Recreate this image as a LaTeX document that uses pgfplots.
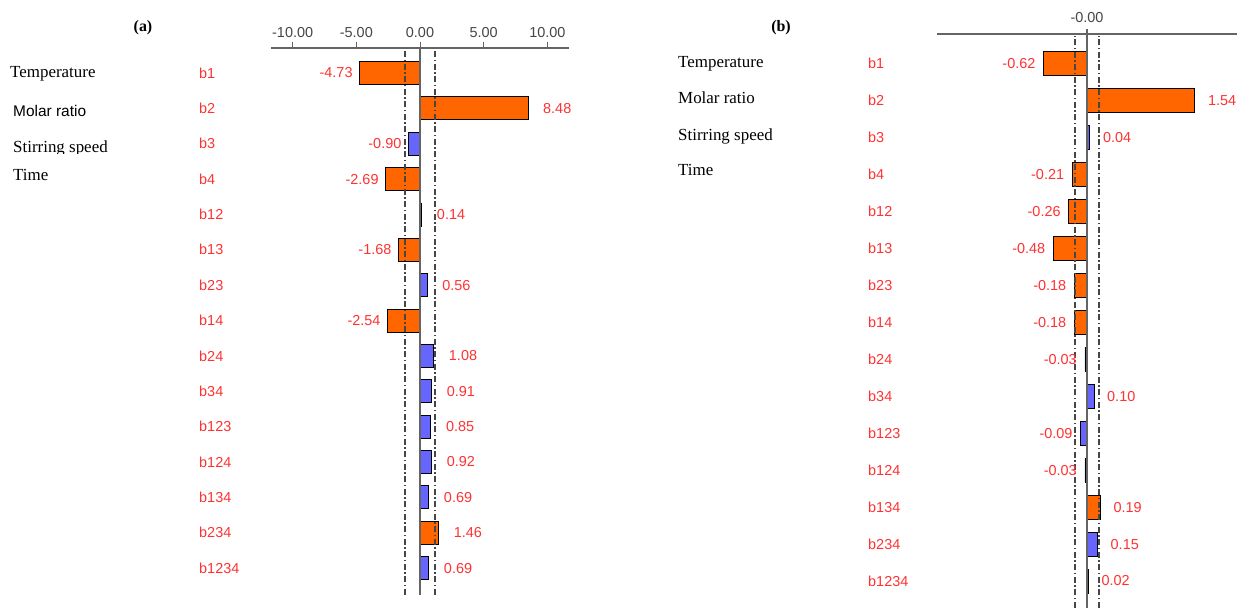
\documentclass[border=0pt]{standalone}
\usepackage{pgfplots}
\pgfplotsset{compat=1.18}
\usepackage{pgfplotstable}
\usepackage{fontspec}
\setmainfont{Liberation Serif}
\newfontfamily\arial{Liberation Sans}
\newcommand\lab{\arial\fontsize{14.5}{16}\selectfont}
\definecolor{orng}{RGB}{255,102,0}
\definecolor{blu}{RGB}{102,102,255}
\definecolor{lred}{RGB}{255,50,50}
\definecolor{lgray}{RGB}{100,100,100}
\definecolor{dgray}{RGB}{70,70,70}

% ---------- panel (a) ----------
\pgfplotstableread{
v y
-4.73 15
8.48 14
-2.69 12
-1.68 10
-2.54 8
1.46 2
}\aorange
\pgfplotstableread{
v y
-0.90 13
0.14 11
0.56 9
1.08 7
0.91 6
0.85 5
0.92 4
0.69 3
0.69 1
}\ablue
\pgfplotstableread{
v y lab
8.48 14 8.48
0.14 11 0.14
0.56 9 0.56
1.08 7 1.08
0.91 6 0.91
0.85 5 0.85
0.92 4 0.92
0.69 3 0.69
1.46 2 1.46
0.69 1 0.69
}\apos
\pgfplotstableread{
v y lab
-4.73 15 -4.73
-0.90 13 -0.90
-2.69 12 -2.69
-1.68 10 -1.68
-2.54 8 -2.54
}\aneg

% ---------- panel (b) ----------
\pgfplotstableread{
v y
-0.62 15
1.54 14
-0.21 12
-0.26 11
-0.48 10
-0.18 9
-0.18 8
0.19 3
}\borange
\pgfplotstableread{
v y
0.04 13
-0.03 7
0.10 6
-0.09 5
-0.03 4
0.15 2
0.02 1
}\bblue
\pgfplotstableread{
v y lab
1.54 14 1.54
0.04 13 0.04
0.10 6 0.10
0.19 3 0.19
0.15 2 0.15
0.02 1 0.02
}\bpos
\pgfplotstableread{
v y lab
-0.62 15 -0.62
-0.21 12 -0.21
-0.26 11 -0.26
-0.48 10 -0.48
-0.18 9 -0.18
-0.18 8 -0.18
-0.03 7 -0.03
-0.09 5 -0.09
-0.03 4 -0.03
}\bneg

\pgfplotsset{
  effplot/.style={
    scale only axis, clip=false,
    axis x line*=top, axis y line*=left,
    x axis line style={-, lgray, line width=1.5bp},
    y axis line style={draw=none},
    major y tick style={draw=none},
    ytick={1,...,15},
    yticklabels={b1234,b234,b134,b124,b123,b34,b24,b14,b23,b13,b12,b4,b3,b2,b1},
    yticklabel style={anchor=west, inner sep=0pt, font=\lab, text=lred},
    xticklabel style={font=\lab, text=dgray},
    tick align=outside,
    major x tick style={lgray, line width=1bp},
    major tick length=6bp,
  },
  orbar/.style={xbar, bar width=0.65, bar shift=0pt, fill=orng, draw=black, line width=0.8bp},
  blbar/.style={xbar, bar width=0.65, bar shift=0pt, fill=blu, draw=black, line width=0.8bp},
  poslab/.style={draw=none, mark=none, nodes near coords, point meta=explicit symbolic,
    every node near coord/.append style={anchor=west, inner sep=0pt, xshift=#1, font=\lab, text=lred}},
  neglab/.style={draw=none, mark=none, nodes near coords, point meta=explicit symbolic,
    every node near coord/.append style={anchor=east, inner sep=0pt, xshift=-#1, font=\lab, text=lred}},
  zline/.style={lgray, line width=1.5bp},
  ddline/.style={dgray, line width=1.3bp, dash pattern=on 6bp off 2.5bp on 1.5bp off 2.5bp},
}

\begin{document}
\begin{tikzpicture}
\path[use as bounding box] (0,0) rectangle (1237bp,608bp);

% ===== (a) =====
\begin{axis}[effplot,
  at={(271bp,13bp)}, anchor=south west,
  width=298bp, height=547bp,
  xmin=-11.7, xmax=11.7, ymin=0.24, ymax=15.707,
  xtick={-10,-5,0,5,10},
  xticklabels={-10.00,-5.00,0.00,5.00,10.00},
  xticklabel style={yshift=1bp},
  yticklabel style={xshift=-66bp},
]
\addplot[orbar] table[x=v,y=y] {\aorange};
\addplot[blbar] table[x=v,y=y] {\ablue};
\addplot[zline] coordinates {(0,0.24) (0,15.707)};
\addplot[ddline] coordinates {(-1.17,0.24) (-1.17,15.65)};
\addplot[ddline] coordinates {(1.17,0.24) (1.17,15.65)};
\addplot[poslab=15bp] table[x=v,y=y,meta=lab] {\apos};
\addplot[neglab=7bp] table[x=v,y=y,meta=lab] {\aneg};
\end{axis}

% ===== (b) =====
\begin{axis}[effplot,
  at={(937bp,0bp)}, anchor=south west,
  width=300bp, height=574bp,
  xmin=-2.143, xmax=2.143, ymin=0.27, ymax=15.8,
  xtick={0}, xticklabels={-0.00},
  major x tick style={draw=none},
  xticklabel style={yshift=2bp},
  yticklabel style={xshift=-63bp},
]
\addplot[orbar] table[x=v,y=y] {\borange};
\addplot[blbar] table[x=v,y=y] {\bblue};
\addplot[zline] coordinates {(0,0.27) (0,15.93)};
\addplot[ddline] coordinates {(-0.17,0.27) (-0.17,15.74)};
\addplot[ddline] coordinates {(0.17,0.27) (0.17,15.74)};
\addplot[poslab=13bp] table[x=v,y=y,meta=lab] {\bpos};
\addplot[neglab=8bp] table[x=v,y=y,meta=lab] {\bneg};
\end{axis}

% ===== titles and factor names =====
\node[font=\bfseries\fontsize{16}{18}\selectfont] at (143bp,580bp) {(a)};
\node[font=\bfseries\fontsize{16}{18}\selectfont] at (781bp,580bp) {(b)};

\begin{scope}[every node/.style={anchor=base west, inner sep=0pt, font=\fontsize{17}{19}\selectfont}]
\node at (10bp,530bp) {Temperature};
\node[font=\arial\fontsize{15.5}{18}\selectfont] at (13bp,491bp) {Molar ratio};
\begin{scope}
\clip (0bp,454bp) rectangle (200bp,475bp);
\node at (13bp,455bp) {Stirring speed};
\end{scope}
\node at (13bp,427bp) {Time};

\node at (678bp,540bp) {Temperature};
\node at (678bp,504bp) {Molar ratio};
\node at (678bp,467bp) {Stirring speed};
\node at (678bp,432bp) {Time};
\end{scope}
\end{tikzpicture}
\end{document}
